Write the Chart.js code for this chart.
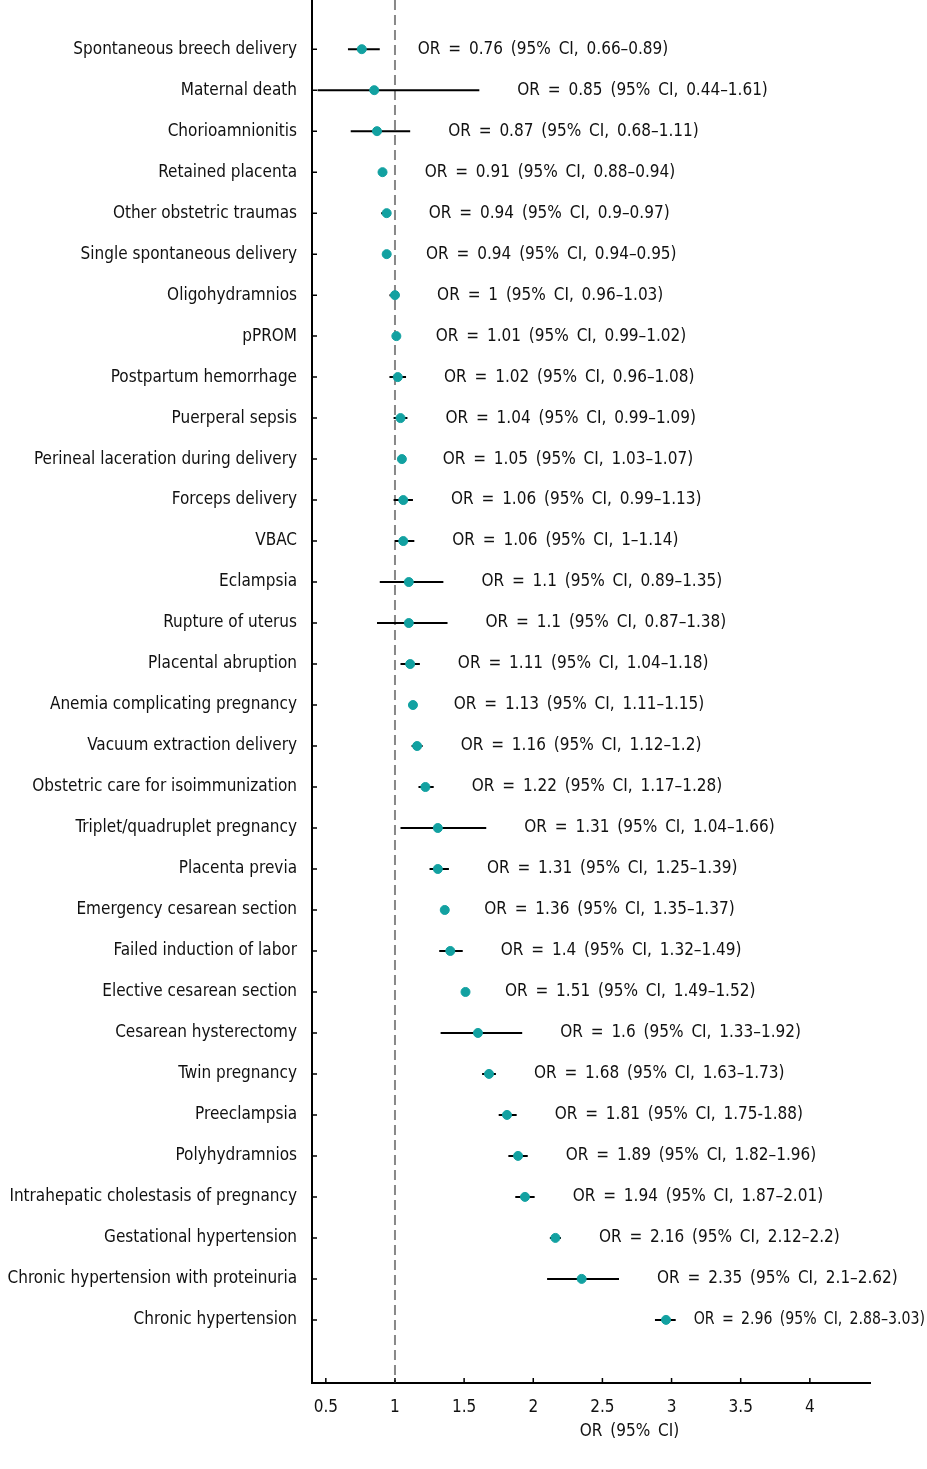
<!DOCTYPE html>
<html>
<head>
<meta charset="utf-8">
<script src="https://cdn.jsdelivr.net/npm/chart.js@4/dist/chart.umd.min.js"></script>
<style>
  html, body { margin: 0; padding: 0; background: #fff; }
  #wrap { width: 927px; height: 1469px; position: relative; }
</style>
</head>
<body>
<div id="wrap"><canvas id="forestChart"></canvas></div>
<script>
const outcomes = [
  "Spontaneous breech delivery", "Maternal death", "Chorioamnionitis",
  "Retained placenta", "Other obstetric traumas", "Single spontaneous delivery",
  "Oligohydramnios", "pPROM", "Postpartum hemorrhage", "Puerperal sepsis",
  "Perineal laceration during delivery", "Forceps delivery", "VBAC", "Eclampsia",
  "Rupture of uterus", "Placental abruption", "Anemia complicating pregnancy",
  "Vacuum extraction delivery", "Obstetric care for isoimmunization",
  "Triplet/quadruplet pregnancy", "Placenta previa", "Emergency cesarean section",
  "Failed induction of labor", "Elective cesarean section", "Cesarean hysterectomy",
  "Twin pregnancy", "Preeclampsia", "Polyhydramnios",
  "Intrahepatic cholestasis of pregnancy", "Gestational hypertension",
  "Chronic hypertension with proteinuria", "Chronic hypertension"
];
const oddsRatio = [0.76, 0.85, 0.87, 0.91, 0.94, 0.94, 1, 1.01, 1.02, 1.04, 1.05, 1.06, 1.06, 1.1, 1.1, 1.11,
  1.13, 1.16, 1.22, 1.31, 1.31, 1.36, 1.4, 1.51, 1.6, 1.68, 1.81, 1.89, 1.94, 2.16, 2.35, 2.96];
const ciLower = [0.66, 0.44, 0.68, 0.88, 0.9, 0.94, 0.96, 0.99, 0.96, 0.99, 1.03, 0.99, 1, 0.89, 0.87, 1.04,
  1.11, 1.12, 1.17, 1.04, 1.25, 1.35, 1.32, 1.49, 1.33, 1.63, 1.75, 1.82, 1.87, 2.12, 2.1, 2.88];
const ciUpper = [0.89, 1.61, 1.11, 0.94, 0.97, 0.95, 1.03, 1.02, 1.08, 1.09, 1.07, 1.13, 1.14, 1.35, 1.38, 1.18,
  1.15, 1.2, 1.28, 1.66, 1.39, 1.37, 1.49, 1.52, 1.92, 1.73, 1.88, 1.96, 2.01, 2.2, 2.62, 3.03];
const xTicks = [0.5, 1, 1.5, 2, 2.5, 3, 3.5, 4];
const hyphenRows = ["Preeclampsia"]; // printed with "-" instead of "–" in the source

const FONT = '"DejaVu Sans Condensed", "Liberation Sans Narrow", sans-serif';
const FONT_SIZE = 17;
const TEAL = "#12a1a1";

const points = oddsRatio.map((v, i) => ({ x: v, y: i }));
const ciSegments = [];
ciLower.forEach((lo, i) => {
  ciSegments.push({ x: lo, y: i }, { x: ciUpper[i], y: i }, { x: NaN, y: NaN });
});

const Y_MIN = -1.2, Y_MAX = 32.54;

const forestExtras = {
  id: "forestExtras",
  afterDatasetsDraw(chart) {
    const { ctx, chartArea, scales } = chart;
    const xs = scales.x, ys = scales.y;
    ctx.save();
    // inward tick marks
    ctx.strokeStyle = "#000";
    ctx.lineWidth = 1.5;
    ctx.beginPath();
    xTicks.forEach(t => {
      const px = xs.getPixelForValue(t);
      ctx.moveTo(px, chartArea.bottom);
      ctx.lineTo(px, chartArea.bottom - 5);
    });
    outcomes.forEach((_, i) => {
      const py = ys.getPixelForValue(i);
      ctx.moveTo(chartArea.left, py);
      ctx.lineTo(chartArea.left + 5, py);
    });
    ctx.stroke();

    // OR annotation next to each interval, squeezed if it runs off the right edge
    ctx.font = FONT_SIZE + "px " + FONT;
    ctx.wordSpacing = "3px";
    ctx.fillStyle = "#111";
    ctx.textBaseline = "middle";
    ctx.textAlign = "left";
    outcomes.forEach((name, i) => {
      const dash = hyphenRows.includes(name) ? "-" : "\u2013";
      const txt = "OR = " + oddsRatio[i] + " (95% CI, " + ciLower[i] + dash + ciUpper[i] + ")";
      const w = ctx.measureText(txt).width;
      const hiPx = xs.getPixelForValue(ciUpper[i]);
      const x = Math.max(hiPx + 18, Math.min(hiPx + 38, chart.width - 2 - w));
      ctx.fillText(txt, x, ys.getPixelForValue(i), chart.width - 2 - x);
    });

    // axis title
    ctx.textAlign = "center";
    ctx.fillText("OR (95% CI)", (chartArea.left + chart.width) / 2 + 10, chartArea.bottom + 49);
    ctx.restore();
  }
};

new Chart(document.getElementById("forestChart"), {
  type: "scatter",
  data: {
    datasets: [
      {
        type: "line",
        data: [{ x: 1, y: Y_MIN }, { x: 1, y: Y_MAX }],
        borderColor: "#888",
        borderWidth: 2,
        borderDash: [10, 5],
        pointRadius: 0,
        order: 3
      },
      {
        type: "line",
        data: ciSegments,
        borderColor: "#000",
        borderWidth: 2,
        pointRadius: 0,
        spanGaps: false,
        order: 2
      },
      {
        data: points,
        backgroundColor: TEAL,
        borderColor: TEAL,
        pointRadius: 4.5,
        order: 1
      }
    ]
  },
  options: {
    responsive: true,
    maintainAspectRatio: false,
    animation: false,
    layout: { autoPadding: false, padding: { top: 0, right: 57, left: 0, bottom: 0 } },
    plugins: { legend: { display: false }, tooltip: { enabled: false } },
    scales: {
      x: {
        type: "linear",
        min: 0.4,
        max: 4.435,
        afterBuildTicks: s => { s.ticks = xTicks.map(v => ({ value: v })); },
        afterFit: s => { s.height = 86; s.paddingLeft = 0; s.paddingRight = 0; },
        border: { color: "#000", width: 2 },
        grid: { display: false, drawTicks: false },
        ticks: {
          color: "#111",
          padding: 14,
          font: { family: FONT, size: FONT_SIZE },
          callback: v => String(v)
        }
      },
      y: {
        type: "linear",
        reverse: true,
        min: Y_MIN,
        max: Y_MAX,
        afterBuildTicks: s => { s.ticks = outcomes.map((_, i) => ({ value: i })); },
        afterFit: s => { s.width = 312; s.paddingTop = 0; s.paddingBottom = 0; },
        border: { color: "#000", width: 2 },
        grid: { display: false, drawTicks: false },
        ticks: {
          color: "#111",
          padding: 15,
          autoSkip: false,
          font: { family: FONT, size: FONT_SIZE },
          callback: v => outcomes[v]
        }
      }
    }
  },
  plugins: [forestExtras]
});
</script>
</body>
</html>
